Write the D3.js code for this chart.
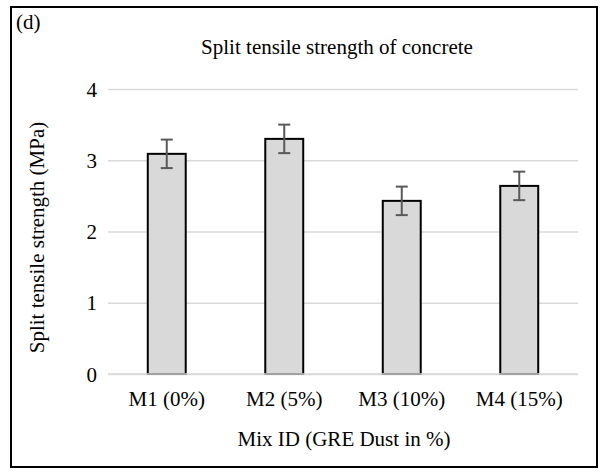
<!DOCTYPE html>
<html>
<head>
<meta charset="utf-8">
<script src="https://cdn.jsdelivr.net/npm/d3@7"></script>
<style>
  html, body { margin: 0; padding: 0; background: #fff; }
  svg { display: block; }
  text { font-family: "Liberation Serif", "Times New Roman", serif; fill: #000; }
</style>
</head>
<body>
<svg id="chart" width="606" height="475"></svg>
<script>
// Split tensile strength per mix (MPa) with error half-widths
const categories = ["M1 (0%)", "M2 (5%)", "M3 (10%)", "M4 (15%)"];
const strength = [3.09, 3.30, 2.43, 2.64];
const errors = [0.2, 0.2, 0.2, 0.2];
const yTicks = [0, 1, 2, 3, 4];

const svg = d3.select("#chart");

// outer frame
svg.append("rect")
  .attr("x", 11).attr("y", 7)
  .attr("width", 586).attr("height", 460)
  .attr("fill", "#fff")
  .attr("stroke", "#000")
  .attr("stroke-width", 2);

const plot = { left: 108, right: 578, top: 89, bottom: 374 };

const x = d3.scaleBand()
  .domain(categories)
  .range([plot.left, plot.right])
  .paddingInner(0.677)
  .paddingOuter(0.677 / 2);

const y = d3.scaleLinear()
  .domain([0, 4])
  .range([plot.bottom, plot.top]);

// horizontal gridlines + tick labels
const yAxis = d3.axisLeft(y)
  .tickValues(yTicks)
  .tickSize(-(plot.right - plot.left))
  .tickPadding(11)
  .tickFormat(d3.format("d"));

const gy = svg.append("g")
  .attr("transform", `translate(${plot.left},0)`)
  .call(yAxis);
gy.select(".domain").remove();
gy.selectAll(".tick line")
  .attr("stroke", "#d9d9d9")
  .attr("stroke-width", 1.5);
gy.selectAll(".tick text")
  .style("font-size", "21px")
  .attr("dy", "0.34em");

// category axis labels
const xAxis = d3.axisBottom(x).tickSize(0).tickPadding(0);
const gx = svg.append("g")
  .attr("transform", `translate(0,${plot.bottom})`)
  .call(xAxis);
gx.select(".domain").remove();
gx.selectAll(".tick text")
  .style("font-size", "21px")
  .attr("y", 32)
  .attr("dy", 0);

// bars
svg.append("g").selectAll("rect")
  .data(categories)
  .join("rect")
  .attr("x", d => x(d))
  .attr("width", x.bandwidth())
  .attr("y", (d, i) => y(strength[i]))
  .attr("height", (d, i) => y(0) - y(strength[i]))
  .attr("fill", "#d9d9d9")
  .attr("stroke", "#000")
  .attr("stroke-width", 2);

// baseline over the bar bottoms
svg.append("line")
  .attr("x1", plot.left).attr("x2", plot.right)
  .attr("y1", y(0)).attr("y2", y(0))
  .attr("stroke", "#d9d9d9")
  .attr("stroke-width", 1.5);

// error bars
const eb = svg.append("g")
  .attr("stroke", "#595959")
  .attr("stroke-width", 2)
  .attr("fill", "none");
const capHalf = 6;
categories.forEach((c, i) => {
  const cx = x(c) + x.bandwidth() / 2;
  const hi = y(strength[i] + errors[i]);
  const lo = y(strength[i] - errors[i]);
  eb.append("line").attr("x1", cx).attr("x2", cx).attr("y1", hi).attr("y2", lo);
  eb.append("line").attr("x1", cx - capHalf).attr("x2", cx + capHalf).attr("y1", hi).attr("y2", hi);
  eb.append("line").attr("x1", cx - capHalf).attr("x2", cx + capHalf).attr("y1", lo).attr("y2", lo);
});

// titles
svg.append("text")
  .attr("x", 337).attr("y", 54)
  .attr("text-anchor", "middle")
  .style("font-size", "21px")
  .text("Split tensile strength of concrete");

svg.append("text")
  .attr("x", 344).attr("y", 446)
  .attr("text-anchor", "middle")
  .style("font-size", "21px")
  .text("Mix ID (GRE Dust in %)");

svg.append("text")
  .attr("transform", `translate(44,${(plot.top + plot.bottom) / 2 + 6}) rotate(-90)`)
  .attr("text-anchor", "middle")
  .style("font-size", "21px")
  .text("Split tensile strength (MPa)");

svg.append("text")
  .attr("x", 16).attr("y", 29)
  .style("font-size", "21px")
  .text("(d)");
</script>
</body>
</html>
